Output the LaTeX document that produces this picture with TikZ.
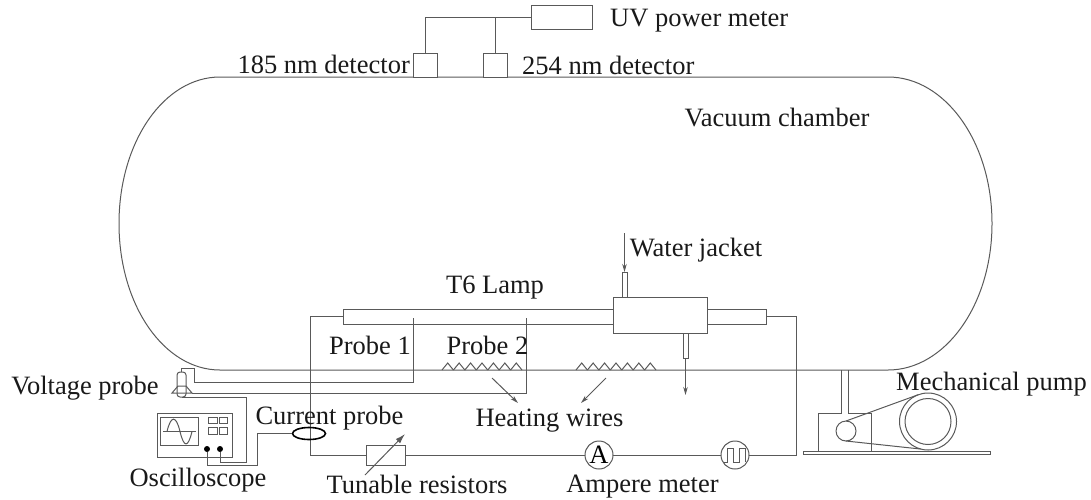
\documentclass[tikz,border=0pt]{standalone}
\usepackage{fontspec}
\setmainfont{Liberation Serif}
\usepackage{xcolor}
\usetikzlibrary{arrows.meta,positioning,calc,shapes.geometric}

\begin{document}
\begin{tikzpicture}[
        x=1pt, y=-1pt,
        font=\fontsize{26.5}{28}\selectfont,
        line/.style={draw=black!65, line width=1pt},
        box/.style={
            line, fill=white, rectangle,
            inner sep=0pt, outer sep=0pt
        },
        dial/.style={line, fill=white, circle, minimum size=28pt, inner sep=0pt, outer sep=0pt},
        lbl/.style={inner sep=0pt, text=black!90},
        arrow/.style={line, -{Stealth[length=8pt,width=4.5pt]}},
        jack/.style={circle, fill=black, minimum size=6pt, inner sep=0pt},
        node distance=4pt
    ]
    \useasboundingbox (0,0) rectangle (1091,499);

    % Vacuum chamber
    \draw[line] (220,77) -- (888,77)
        .. controls (945,77) and (992,142) .. (992,223.5)
        .. controls (992,305) and (945,370) .. (888,370)
        -- (220,370)
        .. controls (164,370) and (119,305) .. (119,223.5)
        .. controls (119,142) and (164,77) .. (220,77);
    \node[lbl] (chamber) at (777,118) {Vacuum chamber};

    % Detectors on top
    \node[box, minimum width=24pt, minimum height=24pt] (det185) at (425,65) {};
    \node[box, minimum width=24pt, minimum height=24pt] (det254) at (495,65) {};
    \node[box, minimum width=61pt, minimum height=24pt] (meter) at (561.5,17) {};
    \node[lbl, left=3pt of det185, yshift=1pt] (det185label) {185 nm detector};
    \node[lbl, right=15pt of det254] (det254label) {254 nm detector};
    \node[lbl, right=18pt of meter, yshift=-4pt] (meterlabel) {UV power meter};
    \draw[line] (det185.north) |- (meter.west);
    \draw[line] (det254.north) -- (det254.north |- meter.west);

    % Lamp and water jacket
    \node[box, minimum width=423pt, minimum height=15pt] (lamp) at (554.5,316.5) {};
    \node[box, minimum width=5pt, minimum height=25pt] (inlet) at (624.5,284.5) {};
    \node[box, minimum width=5pt, minimum height=25pt] (outlet) at (685.5,345.5) {};
    \node[box, minimum width=94pt, minimum height=36pt] (jacket) at (660,315) {};
    \node[lbl] (lamplabel) at (495,288) {T6 Lamp};
    \node[lbl] (jacketlabel) at (696,250) {Water jacket};
    \coordinate (waterin) at (624.5,233);
    \coordinate (waterout) at (685.5,395);
    \draw[arrow] (waterin) -- (inlet.north);
    \draw[arrow] (outlet.south) -- (waterout);

    % Discharge circuit
    \node[box, minimum width=39pt, minimum height=20pt] (resistor) at (385.5,455) {};
    \node[dial] (ampere) at (599,455) {A};
    \node[dial] (pulse) at (735,455) {};
    \draw[line] (723,462) -- (727,462) -- (727,448) -- (733,448) -- (733,462) -- (739,462)
        -- (739,448) -- (745,448) -- (745,462);
    \coordinate (wireleft) at (310,455);
    \coordinate (wireright) at (796,455);
    \draw[line] (lamp.west) -| (wireleft) -- (resistor.west);
    \draw[line] (resistor.east) -- (ampere.west);
    \draw[line] (ampere.east) -- (pulse.west);
    \draw[line] (pulse.east) -- (wireright) |- (lamp.east);
    \coordinate (tunestart) at (365,475);
    \coordinate (tuneend) at (405,434);
    \draw[line, -{Latex[length=10pt,width=6pt]}] (tunestart) -- (tuneend);
    \node[lbl] (resistorlabel) at (417,484) {Tunable resistors};
    \node[lbl] (amperelabel) at (642.5,487) {Ampere meter};

    % Probes
    \node[box, rounded corners=3pt, minimum width=9pt, minimum height=25pt] (vprobe) at (181.5,384.5) {};
    \coordinate (flangeleft) at (172,393);
    \coordinate (flangeright) at (192,393);
    \draw[line] (flangeleft) -- (178,386) -- (186,386) -- (flangeright) -- cycle;
    \coordinate (tip1) at (413,318);
    \coordinate (tip2) at (526,318);
    \coordinate (stem) at (181.5,368);
    \draw[line] (vprobe.north) -- (stem) -| (194,382) -| (tip1);
    \draw[line] (flangeright) -| (tip2);
    \node[lbl] (probe1) at (370,345) {Probe 1};
    \node[lbl] (probe2) at (487.5,345) {Probe 2};
    \node[lbl] (vprobelabel) at (85,388) {Voltage probe};

    % Heating wires
    \foreach \startx in {442,576} {
        \foreach \i in {0,...,6} {
            \draw[line] ({\startx+11.43*\i},370) -- ++(5.7,-7) -- ++(5.7,7);
        }
    }
    \coordinate (heat1) at (492,378);
    \coordinate (heat2) at (606,378);
    \node[lbl] (heatlabel) at (549.5,421) {Heating wires};
    \draw[arrow] (heat1) -- (518,403);
    \draw[arrow] (heat2) -- (581,403);

    % Oscilloscope
    \node[box, minimum width=75pt, minimum height=44pt] (scope) at (194.5,435) {};
    \node[box, minimum width=38pt, minimum height=28pt] (screen) at (179,431) {};
    \draw[line] (163,431.5) -- (196,431.5);
    \draw[line] (167,431.5) .. controls (171,415) and (176,415) .. (180,431.5)
        .. controls (184,448) and (188,448) .. (192,431.5);
    \foreach \bx in {213,223.5} {
        \foreach \by in {420.5,431} {
            \node[box, minimum width=8.5pt, minimum height=6.5pt] at (\bx,\by) {};
        }
    }
    \node[jack] (jack1) at (207,449) {};
    \node[jack] (jack2) at (220,449) {};
    \node[lbl] (scopelabel) at (198,480) {Oscilloscope};

    % Current probe
    \node[draw=black, line width=1.6pt, ellipse, fill=none, minimum width=33pt, minimum height=12pt, inner sep=0pt] (cprobe) at (309,433.5) {};
    \node[lbl] (cprobelabel) at (329.5,418) {Current probe};
    \draw[line] (jack1) -- (207,465) -- (257,465) |- (cprobe.west);
    \draw[line] (jack2) -- (220,462) -- (246,462) |- (vprobe.south);

    % Mechanical pump
    \draw[line] (818,451) |- (841,413) -- (841,370) (848,370) -- (848,413) -| (871,451);
    \node[box, minimum width=187pt, minimum height=3pt] (base) at (896.5,452.5) {};
    \node[line, circle, minimum size=57pt, inner sep=0pt, outer sep=0pt] (wheel) at (928,421.5) {};
    \node[line, circle, minimum size=46pt, inner sep=0pt] (wheelinner) at (928,421.5) {};
    \node[line, circle, fill=white, minimum size=20pt, inner sep=0pt, outer sep=0pt] (pulley) at (846,431) {};
    \draw[line] (pulley.north) -- (wheel.110);
    \draw[line] (pulley.south) -- (wheel.255);
    \node[lbl] (pumplabel) at (991.5,384) {Mechanical pump};
\end{tikzpicture}
\end{document}
